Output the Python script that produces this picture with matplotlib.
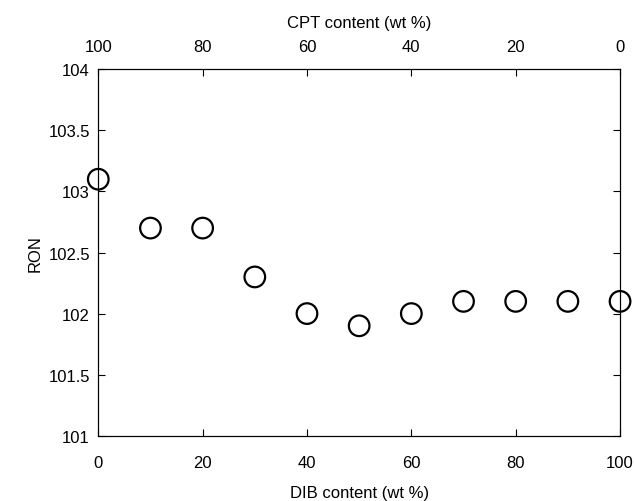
import matplotlib.pyplot as plt

dib = [0, 10, 20, 30, 40, 50, 60, 70, 80, 90, 100]
ron = [103.1, 102.7, 102.7, 102.3, 102.0, 101.9, 102.0, 102.1, 102.1, 102.1, 102.1]
top_ticks = [0, 20, 40, 60, 80, 100]
top_labels = ['100', '80', '60', '40', '20', '0']

plt.rcParams['font.family'] = 'Liberation Sans'
fig = plt.figure(figsize=(6.34, 5.02), dpi=100)
ax = fig.add_axes([0.155, 0.13, 0.823, 0.73])
ax.scatter(dib, ron, s=220, facecolors='none', edgecolors='black', linewidths=1.6, clip_on=False, zorder=3)
ax.set_xlim(0, 100)
ax.set_ylim(101, 104)
ax.set_yticks([101, 101.5, 102, 102.5, 103, 103.5, 104])
ax.set_yticklabels(['101', '101.5', '102', '102.5', '103', '103.5', '104'])
ax.set_xticks([0, 20, 40, 60, 80, 100])
ax.tick_params(direction='in', labelsize=12, length=5, pad=6)
ax.tick_params(axis='x', pad=14)
ax.set_xlabel('DIB content (wt %)', fontsize=12, labelpad=11)
ax.set_ylabel('RON', fontsize=12)
ax2 = ax.twiny()
ax2.set_xlim(0, 100)
ax2.set_xticks(top_ticks)
ax2.set_xticklabels(top_labels)
ax2.tick_params(direction='in', labelsize=12, length=5, pad=11)
ax2.set_xlabel('CPT content (wt %)', fontsize=12, labelpad=9)
ax.tick_params(right=True)
fig.savefig('out.png', dpi=100)
